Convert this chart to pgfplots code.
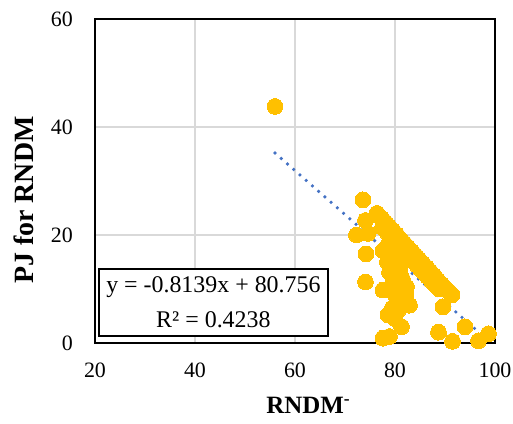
\documentclass[border=0pt]{standalone}
\usepackage{fontspec}
\setmainfont{Liberation Serif}
\usepackage{pgfplots}
\pgfplotsset{compat=1.18}
\definecolor{gold}{HTML}{FFC000}
\definecolor{trendblue}{HTML}{4472C4}
\definecolor{gridgray}{HTML}{D9D9D9}
\begin{document}
\begin{tikzpicture}
\useasboundingbox (-95bp,-81bp) rectangle (418bp,343bp);
\begin{axis}[
  at={(0,0)}, anchor=south west,
  scale only axis, width=400bp, height=324bp,
  xmin=20, xmax=100, ymin=0, ymax=60,
  xtick={20,40,60,80,100}, ytick={0,20,40,60},
  major tick length=0pt,
  grid=major,
  major grid style={line width=1.4bp, color=gridgray},
  axis line style={line width=2.6bp, black},
  clip=false,
  /pgf/number format/assume math mode=true,
  tick label style={font=\fontsize{22}{26}\selectfont},
  x tick label style={anchor=center, inner sep=0pt, yshift=-27bp},
  y tick label style={anchor=east, inner sep=0pt, xshift=-22bp},
  every axis x label/.style={at={(axis description cs:0.533,-0.219)}, anchor=base, font=\fontsize{25}{28}\selectfont\bfseries},
  every axis y label/.style={at={(axis description cs:-0.1775,0.441)}, anchor=center, rotate=90, font=\fontsize{28}{32}\selectfont\bfseries},
  xlabel={RNDM\textsuperscript{-}},
  ylabel={PJ for RNDM},
]
\addplot[only marks, mark=*, color=gold, mark size=7.9bp, mark options={draw=gold, fill=gold, line width=0pt}] coordinates {
(56.0,43.8) (73.6,26.5) (72.3,20.0) (74.1,22.7) (74.6,20.3) (74.2,16.5) (74.1,11.3)
(76.4,24.0) (77.3,23.1) (78.0,22.4) (78.8,21.6) (79.5,20.9) (80.3,20.1) (81.0,19.3)
(81.8,18.5) (82.5,17.8) (83.3,17.0) (84.0,16.3) (84.8,15.5) (85.5,14.8) (86.3,14.0)
(87.0,13.3) (87.8,12.5) (88.5,11.7) (89.3,10.9) (90.0,10.2) (90.8,9.5) (91.4,8.9)
(77.5,21.4) (78.3,20.6) (79.0,19.9) (79.8,19.1) (80.5,18.4) (81.3,17.5) (82.0,16.8)
(82.8,16.0) (83.5,15.3) (84.3,14.5) (85.0,13.8) (85.8,13.0) (86.5,12.3) (87.3,11.5)
(88.0,10.8) (88.8,10.0)
(77.6,17.1) (78.5,18.0) (79.0,16.5) (78.5,15.0) (79.5,14.0) (78.9,13.1) (80.0,12.5)
(80.5,15.5) (81.0,13.5) (80.3,10.7) (81.5,11.8) (79.5,11.0) (80.0,9.0) (81.0,8.5)
(81.6,7.6) (82.3,10.4) (77.6,9.8) (78.6,5.2) (79.5,6.5) (80.0,4.5) (81.3,3.0)
(82.9,7.0) (77.6,0.9) (78.9,1.2) (80.6,6.0) (79.8,17.4) (80.8,16.4) (82.2,8.8)
(89.6,6.7) (88.7,2.0) (91.5,0.3) (94.0,3.0) (96.7,0.4) (98.7,1.7)
};
\addplot[trendblue, line width=3.6bp, line cap=round, dash pattern=on 0bp off 8.3bp] coordinates {(56.0,35.18) (98.7,0.43)};
\node[draw=black, line width=1.3bp, fill=white, minimum width=229bp, minimum height=67bp, inner sep=0pt, align=center, font=\fontsize{24}{35}\selectfont] at (axis description cs:0.296,0.125) {y = -0.8139x + 80.756\\R² = 0.4238};
\end{axis}
\end{tikzpicture}
\end{document}
